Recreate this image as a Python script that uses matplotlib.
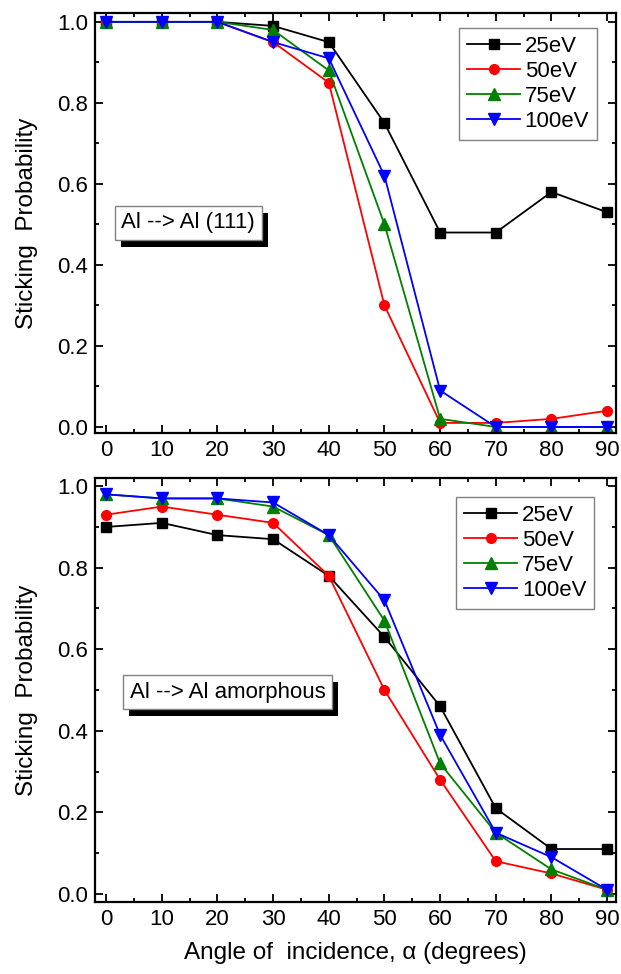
import matplotlib
matplotlib.use("Agg")
import matplotlib.pyplot as plt
from matplotlib.ticker import MultipleLocator
from matplotlib.patches import Rectangle

plt.rcParams['font.family'] = ['Liberation Sans', 'DejaVu Sans']

angles = [0, 10, 20, 30, 40, 50, 60, 70, 80, 90]
labels = ['25eV', '50eV', '75eV', '100eV']
colors = ['black', 'red', 'green', 'blue']
markers = ['s', 'o', '^', 'v']

# Al -> Al (111)
top_25 = [1.0, 1.0, 1.0, 0.99, 0.95, 0.75, 0.48, 0.48, 0.58, 0.53]
top_50 = [1.0, 1.0, 1.0, 0.95, 0.85, 0.30, 0.01, 0.01, 0.02, 0.04]
top_75 = [1.0, 1.0, 1.0, 0.98, 0.88, 0.50, 0.02, 0.0, 0.0, 0.0]
top_100 = [1.0, 1.0, 1.0, 0.95, 0.91, 0.62, 0.09, 0.0, 0.0, 0.0]

# Al -> Al amorphous
bot_25 = [0.90, 0.91, 0.88, 0.87, 0.78, 0.63, 0.46, 0.21, 0.11, 0.11]
bot_50 = [0.93, 0.95, 0.93, 0.91, 0.78, 0.50, 0.28, 0.08, 0.05, 0.01]
bot_75 = [0.98, 0.97, 0.97, 0.95, 0.88, 0.67, 0.32, 0.15, 0.06, 0.01]
bot_100 = [0.98, 0.97, 0.97, 0.96, 0.88, 0.72, 0.39, 0.15, 0.09, 0.01]

fig = plt.figure(figsize=(6.21, 9.74), dpi=100)
ax1 = fig.add_axes([0.153, 0.5554, 0.839, 0.4313])
ax2 = fig.add_axes([0.153, 0.0739, 0.839, 0.4353])


def style_axes(ax, ylim):
    ax.set_xlim(-2, 91.6)
    ax.set_ylim(*ylim)
    ax.xaxis.set_major_locator(MultipleLocator(10))
    ax.xaxis.set_minor_locator(MultipleLocator(5))
    ax.yaxis.set_major_locator(MultipleLocator(0.2))
    ax.yaxis.set_minor_locator(MultipleLocator(0.1))
    ax.yaxis.set_major_formatter(plt.FormatStrFormatter('%.1f'))
    ax.tick_params(which='both', direction='in', top=True, right=True,
                   labelsize=16, width=1.3)
    ax.tick_params(which='major', length=5.5, pad=5)
    ax.tick_params(which='minor', length=3)
    for s in ax.spines.values():
        s.set_linewidth(1.6)
    ax.set_ylabel('Sticking  Probability', fontsize=17.5, labelpad=14)


boxes = []


def draw(ax, series, text, tpos, lpos):
    for vals, lab, c, m in zip(series, labels, colors, markers):
        ms = 6.5 if m == 's' else 8 if m in ('^', 'v') else 7
        ax.plot(angles, vals, color=c, marker=m, markersize=ms, linewidth=1.3,
                label=lab)
    leg = ax.legend(loc='upper right', bbox_to_anchor=lpos, fontsize=16,
                    numpoints=1, handlelength=2.4, handletextpad=0.2,
                    labelspacing=0.18, borderpad=0.35, fancybox=False,
                    edgecolor='gray', framealpha=1, borderaxespad=0)
    leg.get_frame().set_linewidth(1.0)
    t = ax.text(tpos[0], tpos[1], text, transform=ax.transAxes, ha='center',
                va='center', fontsize=16, color='black', zorder=6,
                bbox=dict(boxstyle='square,pad=0.3', fc='white', ec='gray',
                          lw=1.0))
    boxes.append(t)


style_axes(ax1, (-0.015, 1.022))
style_axes(ax2, (-0.02, 1.02))
draw(ax1, [top_25, top_50, top_75, top_100], 'Al --> Al (111)',
     (0.179, 0.50), (0.9635, 0.964))
draw(ax2, [bot_25, bot_50, bot_75, bot_100], 'Al --> Al amorphous',
     (0.255, 0.495), (0.958, 0.955))
ax2.set_xlabel('Angle of  incidence, α (degrees)', fontsize=17.5, labelpad=9)

# black drop shadow behind each text box
fig.canvas.draw()
for t in boxes:
    bb = t.get_bbox_patch().get_window_extent()
    fig.patches.append(Rectangle((bb.x0 + 6, bb.y0 - 7), bb.width, bb.height,
                                 transform=None, facecolor='black',
                                 edgecolor='none', zorder=5, figure=fig))

# keep the shadows under the text boxes but above axes content
for ax in (ax1, ax2):
    ax.set_zorder(1)
    ax.patch.set_alpha(0)
for t in boxes:
    t.remove()
    fig.add_artist(t)

fig.savefig('out.png', dpi=100)
